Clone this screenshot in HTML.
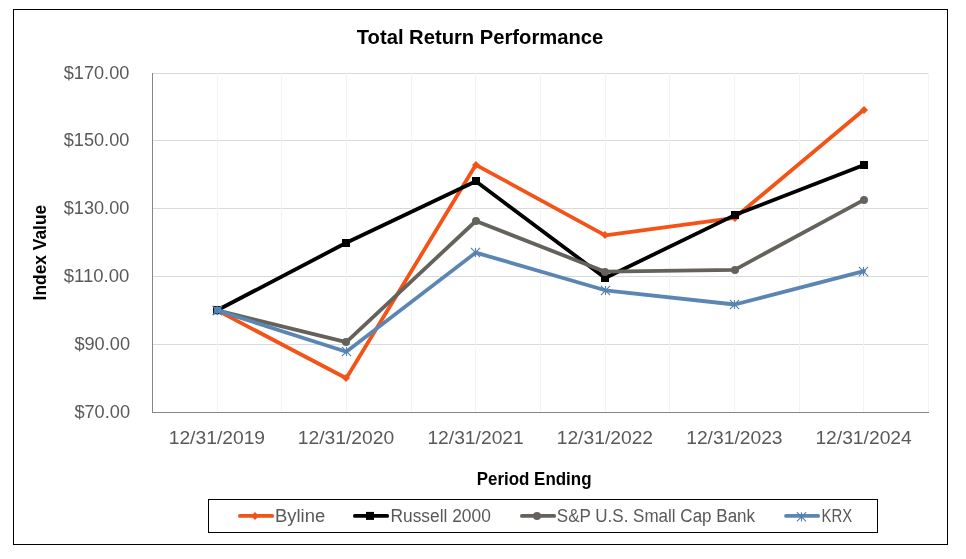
<!DOCTYPE html>
<html><head><meta charset="utf-8"><title>Total Return Performance</title>
<style>
html,body{margin:0;padding:0;background:#fff;}
body{width:966px;height:559px;overflow:hidden;}
svg{display:block;will-change:transform;transform:translateZ(0);}
text{font-family:"Liberation Sans",sans-serif;}
.t{fill:#595959;font-size:17.6px;}
.b{fill:#000;font-weight:bold;}
</style></head><body>
<svg width="966" height="559" viewBox="0 0 966 559">
<rect x="0" y="0" width="966" height="559" fill="#fff"/>

<rect x="13.5" y="9.5" width="934" height="535" fill="none" stroke="#000" stroke-width="1" shape-rendering="crispEdges"/>
<rect x="152" y="73" width="777" height="1" fill="#D9D9D9"/>
<rect x="152" y="140" width="777" height="1" fill="#D9D9D9"/>
<rect x="152" y="208" width="777" height="1" fill="#D9D9D9"/>
<rect x="152" y="276" width="777" height="1" fill="#D9D9D9"/>
<rect x="152" y="344" width="777" height="1" fill="#D9D9D9"/>
<rect x="217" y="73" width="1" height="339" fill="#F3F3F4"/>
<rect x="281" y="73" width="1" height="339" fill="#F3F3F4"/>
<rect x="346" y="73" width="1" height="339" fill="#F3F3F4"/>
<rect x="411" y="73" width="1" height="339" fill="#F3F3F4"/>
<rect x="475" y="73" width="1" height="339" fill="#F3F3F4"/>
<rect x="540" y="73" width="1" height="339" fill="#F3F3F4"/>
<rect x="605" y="73" width="1" height="339" fill="#F3F3F4"/>
<rect x="669" y="73" width="1" height="339" fill="#F3F3F4"/>
<rect x="734" y="73" width="1" height="339" fill="#F3F3F4"/>
<rect x="799" y="73" width="1" height="339" fill="#F3F3F4"/>
<rect x="863" y="73" width="1" height="339" fill="#F3F3F4"/>
<rect x="928" y="73" width="1" height="339" fill="#F3F3F4"/>
<rect x="152" y="73" width="1" height="340" fill="#868686"/>
<rect x="152" y="412" width="777" height="1" fill="#868686"/>
<polyline points="217.20,310.40 346.30,378.30 475.85,164.80 605.20,235.30 734.70,217.80 863.90,109.80" fill="none" stroke="#F45317" stroke-width="3.8" stroke-linejoin="round" stroke-linecap="round"/>
<path d="M213.00 310.00L217.00 306.00L221.00 310.00L217.00 314.00Z" fill="#F45317"/>
<path d="M342.00 378.00L346.00 374.00L350.00 378.00L346.00 382.00Z" fill="#F45317"/>
<path d="M472.00 165.00L476.00 161.00L480.00 165.00L476.00 169.00Z" fill="#F45317"/>
<path d="M601.00 235.00L605.00 231.00L609.00 235.00L605.00 239.00Z" fill="#F45317"/>
<path d="M731.00 218.00L735.00 214.00L739.00 218.00L735.00 222.00Z" fill="#F45317"/>
<path d="M860.00 110.00L864.00 106.00L868.00 110.00L864.00 114.00Z" fill="#F45317"/>
<polyline points="217.20,310.30 346.30,242.80 475.85,181.20 605.20,278.00 734.70,215.10 863.90,164.90" fill="none" stroke="#000000" stroke-width="3.8" stroke-linejoin="round" stroke-linecap="round"/>
<rect x="213.00" y="306.00" width="8.0" height="8.0" fill="#000000"/>
<rect x="342.00" y="239.00" width="8.0" height="8.0" fill="#000000"/>
<rect x="472.00" y="177.00" width="8.0" height="8.0" fill="#000000"/>
<rect x="601.00" y="274.00" width="8.0" height="8.0" fill="#000000"/>
<rect x="731.00" y="211.00" width="8.0" height="8.0" fill="#000000"/>
<rect x="860.00" y="161.00" width="8.0" height="8.0" fill="#000000"/>
<polyline points="217.20,310.40 346.30,342.20 475.85,221.00 605.20,271.70 734.70,269.80 863.90,199.90" fill="none" stroke="#65625C" stroke-width="3.8" stroke-linejoin="round" stroke-linecap="round"/>
<circle cx="217.00" cy="310.00" r="4.0" fill="#65625C"/>
<circle cx="346.00" cy="342.00" r="4.0" fill="#65625C"/>
<circle cx="476.00" cy="221.00" r="4.0" fill="#65625C"/>
<circle cx="605.00" cy="272.00" r="4.0" fill="#65625C"/>
<circle cx="735.00" cy="270.00" r="4.0" fill="#65625C"/>
<circle cx="864.00" cy="200.00" r="4.0" fill="#65625C"/>
<polyline points="217.20,310.40 346.30,351.70 475.85,252.60 605.20,290.30 734.70,304.50 863.90,271.10" fill="none" stroke="#5B86B4" stroke-width="3.8" stroke-linejoin="round" stroke-linecap="round"/>
<path d="M212.90 305.90L222.10 315.10M212.90 315.10L222.10 305.90M217.50 305.90L217.50 315.10" stroke="#5580AE" stroke-width="1.15" fill="none"/>
<path d="M341.90 346.90L351.10 356.10M341.90 356.10L351.10 346.90M346.50 346.90L346.50 356.10" stroke="#5580AE" stroke-width="1.15" fill="none"/>
<path d="M470.90 247.90L480.10 257.10M470.90 257.10L480.10 247.90M475.50 247.90L475.50 257.10" stroke="#5580AE" stroke-width="1.15" fill="none"/>
<path d="M600.90 285.90L610.10 295.10M600.90 295.10L610.10 285.90M605.50 285.90L605.50 295.10" stroke="#5580AE" stroke-width="1.15" fill="none"/>
<path d="M729.90 299.90L739.10 309.10M729.90 309.10L739.10 299.90M734.50 299.90L734.50 309.10" stroke="#5580AE" stroke-width="1.15" fill="none"/>
<path d="M858.90 266.90L868.10 276.10M858.90 276.10L868.10 266.90M863.50 266.90L863.50 276.10" stroke="#5580AE" stroke-width="1.15" fill="none"/>
<rect x="213" y="306" width="8.1" height="8.2" fill="#0A1420"/><rect x="214.1" y="307" width="7.2" height="6.2" fill="#5F8BBA"/>
<path d="M212.60 305.80L221.80 315.00M212.60 315.00L221.80 305.80M217.20 305.80L217.20 315.00" stroke="#5580AE" stroke-width="1.15" fill="none"/>
<text class="b" x="480" y="43.8" font-size="20.4" text-anchor="middle" textLength="246.5" lengthAdjust="spacingAndGlyphs">Total Return Performance</text>
<text class="t" x="129.3" y="78.8" text-anchor="end" textLength="65.5" lengthAdjust="spacingAndGlyphs">$170.00</text>
<text class="t" x="129.3" y="145.8" text-anchor="end" textLength="65.5" lengthAdjust="spacingAndGlyphs">$150.00</text>
<text class="t" x="129.3" y="213.8" text-anchor="end" textLength="65.5" lengthAdjust="spacingAndGlyphs">$130.00</text>
<text class="t" x="129.3" y="281.8" text-anchor="end" textLength="65.5" lengthAdjust="spacingAndGlyphs">$110.00</text>
<text class="t" x="130.0" y="349.8" text-anchor="end" textLength="55.6" lengthAdjust="spacingAndGlyphs">$90.00</text>
<text class="t" x="130.0" y="417.8" text-anchor="end" textLength="55.6" lengthAdjust="spacingAndGlyphs">$70.00</text>
<text class="t" x="216.9" y="443.7" text-anchor="middle" textLength="96.4" lengthAdjust="spacingAndGlyphs">12/31/2019</text>
<text class="t" x="346.0" y="443.7" text-anchor="middle" textLength="96.4" lengthAdjust="spacingAndGlyphs">12/31/2020</text>
<text class="t" x="475.6" y="443.7" text-anchor="middle" textLength="96.4" lengthAdjust="spacingAndGlyphs">12/31/2021</text>
<text class="t" x="604.9" y="443.7" text-anchor="middle" textLength="96.4" lengthAdjust="spacingAndGlyphs">12/31/2022</text>
<text class="t" x="734.4" y="443.7" text-anchor="middle" textLength="96.4" lengthAdjust="spacingAndGlyphs">12/31/2023</text>
<text class="t" x="863.6" y="443.7" text-anchor="middle" textLength="96.4" lengthAdjust="spacingAndGlyphs">12/31/2024</text>
<text class="b" x="534.1" y="484.6" font-size="17.8" text-anchor="middle" textLength="114.8" lengthAdjust="spacingAndGlyphs">Period Ending</text>
<text class="b" transform="translate(46.4,252.6) rotate(-90)" x="0" y="0" font-size="17.8" text-anchor="middle" textLength="95.6" lengthAdjust="spacingAndGlyphs">Index Value</text>
<rect x="208.5" y="499.5" width="669" height="33" fill="#fff" stroke="#000" stroke-width="1" shape-rendering="crispEdges"/>
<line x1="239.9" y1="515.9" x2="272.2" y2="515.9" stroke="#F45317" stroke-width="3.8" stroke-linecap="round"/><path d="M251.00 515.90L255.00 511.90L259.00 515.90L255.00 519.90Z" fill="#F45317"/><text class="t" x="275.0" y="521.8" textLength="50.2" lengthAdjust="spacingAndGlyphs">Byline</text>
<line x1="354.9" y1="515.9" x2="387.2" y2="515.9" stroke="#000000" stroke-width="3.8" stroke-linecap="round"/><rect x="366.00" y="511.90" width="8.0" height="8.0" fill="#000000"/><text class="t" x="390.5" y="521.8" textLength="100.3" lengthAdjust="spacingAndGlyphs">Russell 2000</text>
<line x1="521.9" y1="515.9" x2="554.2" y2="515.9" stroke="#65625C" stroke-width="3.8" stroke-linecap="round"/><circle cx="537.00" cy="515.90" r="4.0" fill="#65625C"/><text class="t" x="556.8" y="521.8" textLength="198.3" lengthAdjust="spacingAndGlyphs">S&amp;P U.S. Small Cap Bank</text>
<line x1="786.0" y1="515.9" x2="818.2" y2="515.9" stroke="#5B86B4" stroke-width="3.8" stroke-linecap="round"/><path d="M796.90 512.20L806.10 521.40M796.90 521.40L806.10 512.20M801.50 512.20L801.50 521.40" stroke="#5580AE" stroke-width="1.15" fill="none"/><text class="t" x="821.5" y="521.8" textLength="30.7" lengthAdjust="spacingAndGlyphs">KRX</text>
</svg></body></html>
